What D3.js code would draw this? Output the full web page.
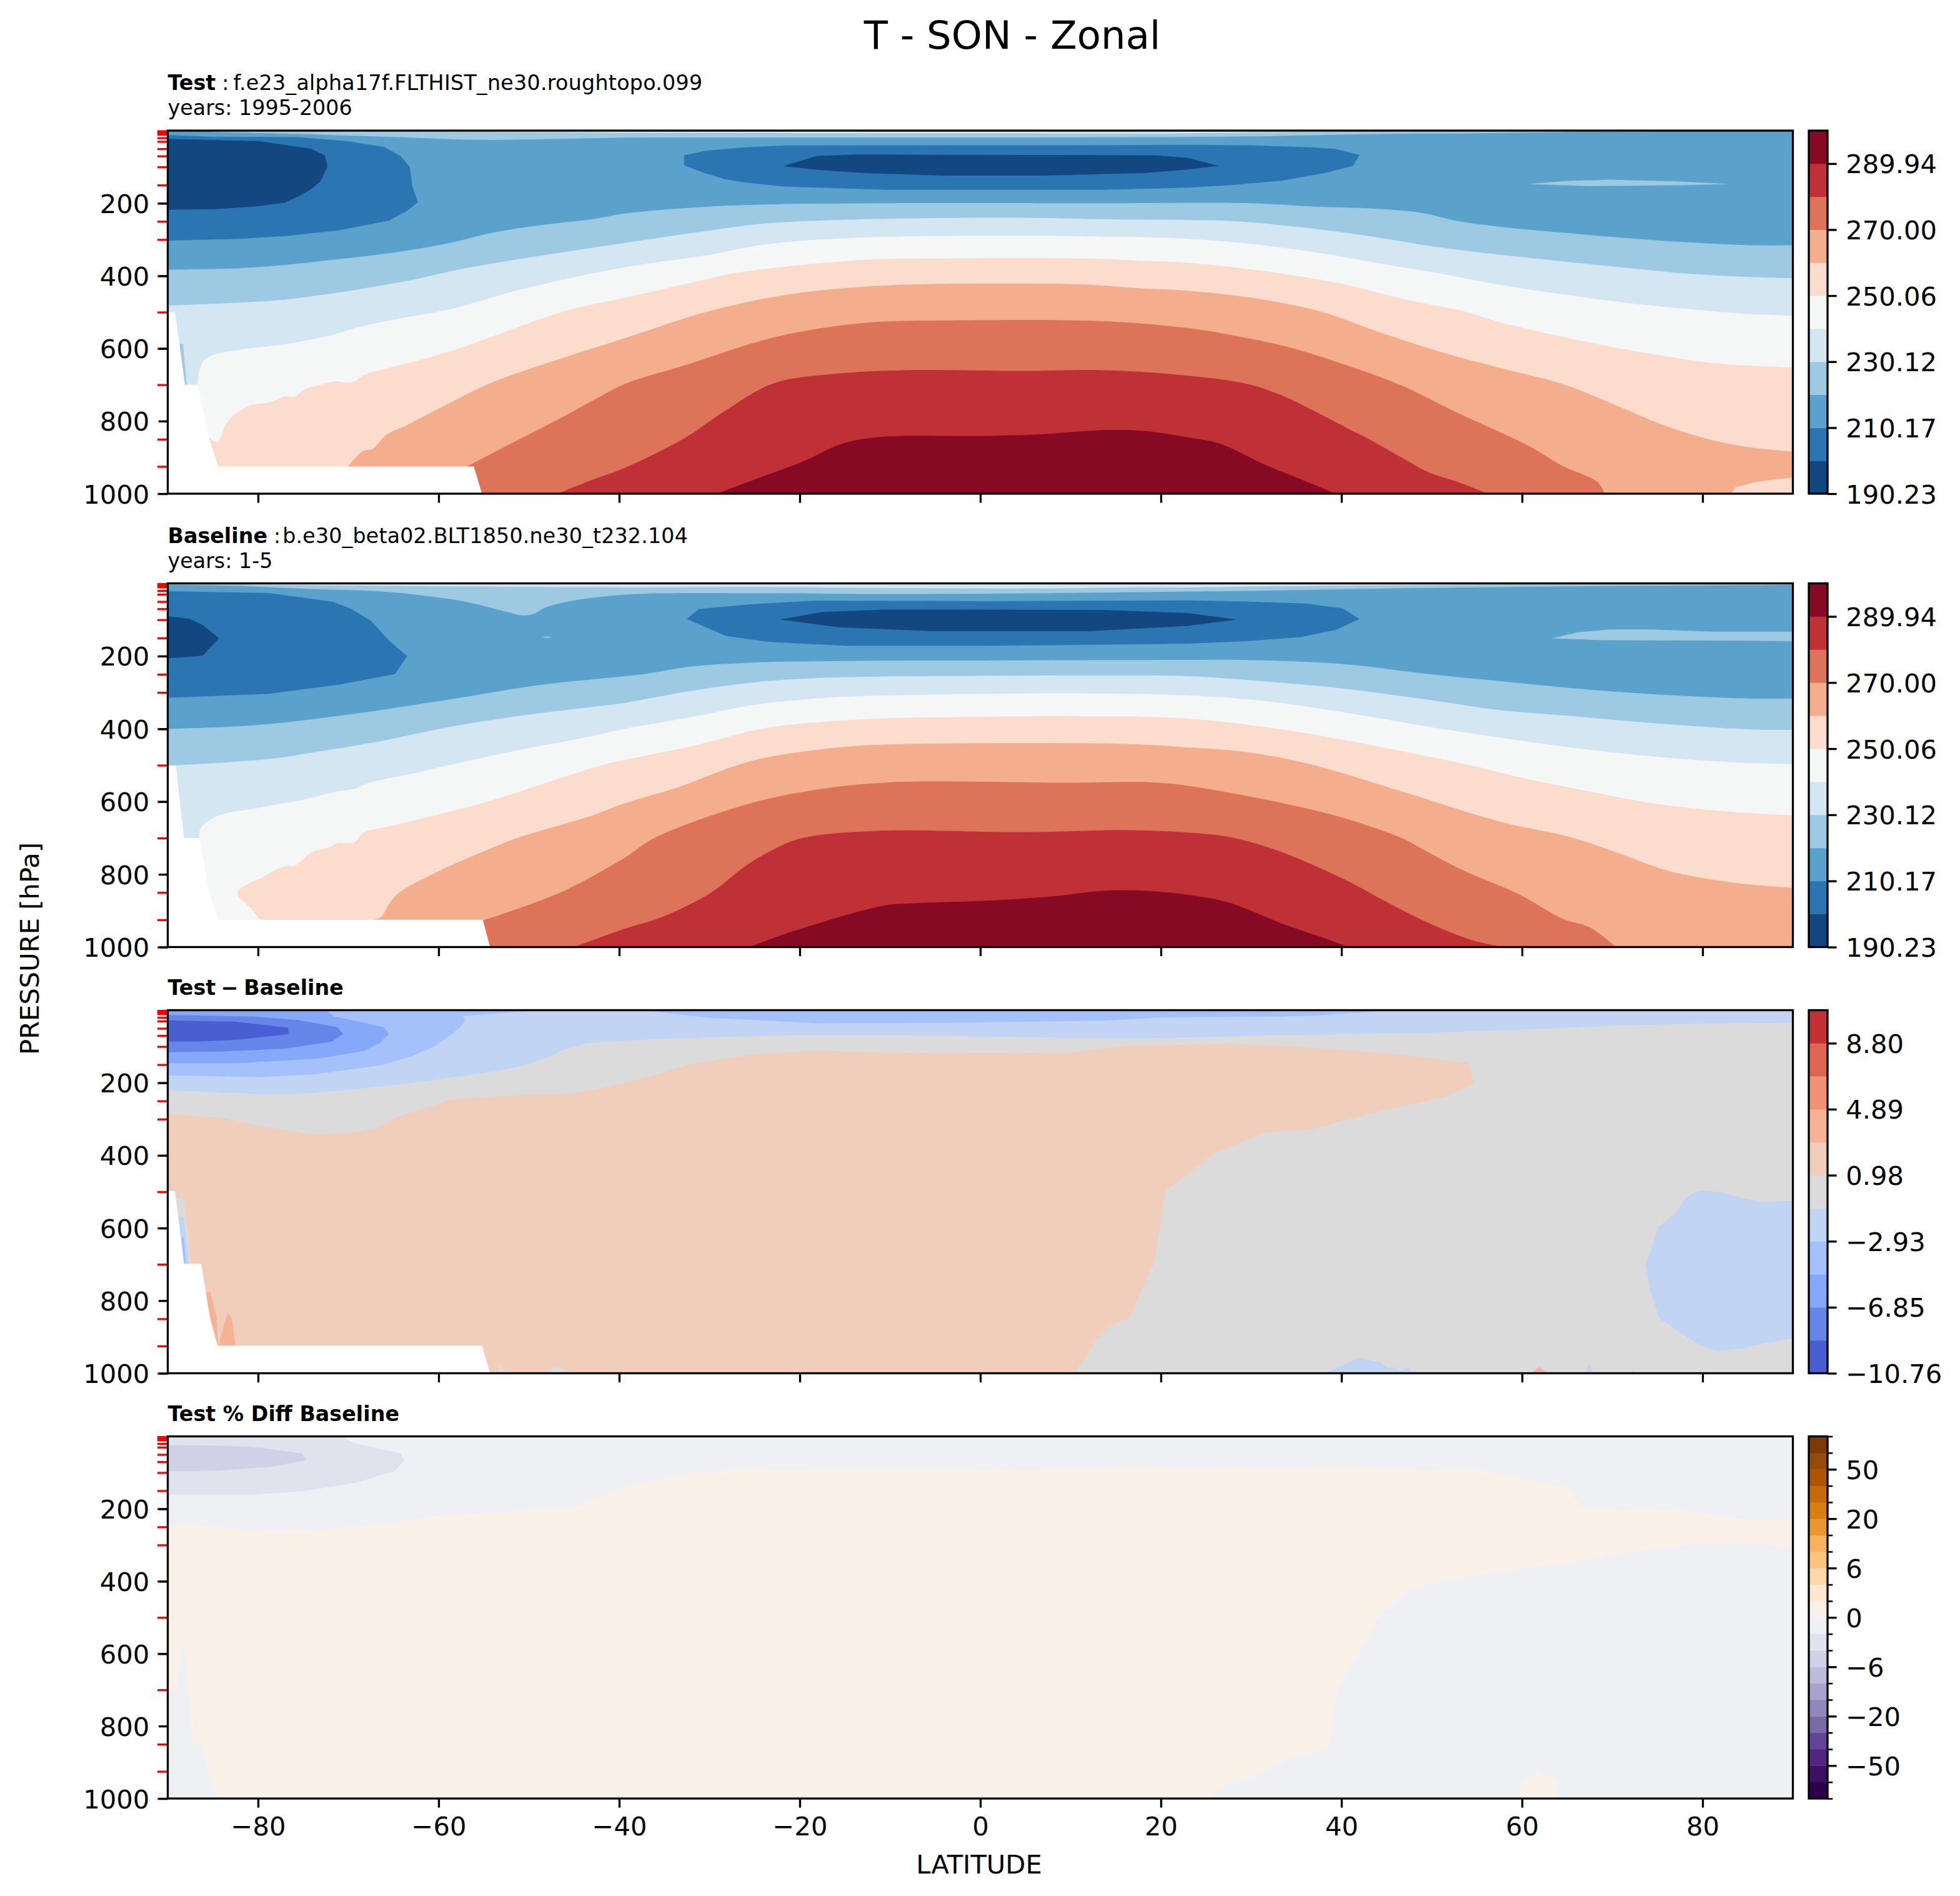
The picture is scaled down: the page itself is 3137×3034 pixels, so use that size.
<!DOCTYPE html>
<html lang="en">
<head>
    <meta charset="UTF-8">
    <title>T - SON - Zonal</title>
    <script src="https://d3js.org/d3.v7.min.js"></script>
</head>

<style>
    body { margin: 0; background: #fff; }
    text { font-family: "DejaVu Sans", sans-serif; fill: #000; }
</style>

<body>
<svg id="chart" width="3137" height="3034"></svg>

<script>
    // ---- axis values ----
    var latTicks = [-80, -60, -40, -20, 0, 20, 40, 60, 80];
    var presTicks = [200, 400, 600, 800, 1000];
    var modelLevels = [1, 2, 3, 5, 7, 10, 20, 30, 50, 70, 100, 150, 200, 250, 300, 400, 500, 600, 700, 850, 925, 1000];

    // ---- colorbar levels and colors ----
    var tempLevels = [190.23, 200.20, 210.17, 220.15, 230.12, 240.09, 250.06, 260.03, 270.00, 279.97, 289.94, 299.91];
    var tempLabels = [190.23, 210.17, 230.12, 250.06, 270.00, 289.94];
    var tempColors = ["#134780", "#2c75b3", "#5aa1cb", "#9dcae2", "#d4e6f2", "#f5f7f6", "#fcdccc", "#f5ae8d", "#dd7359", "#bf3037", "#860a24"];

    var diffLevels = [-10.76, -8.80, -6.85, -4.89, -2.93, -0.98, 0.98, 2.93, 4.89, 6.85, 8.80, 10.76];
    var diffLabels = [-10.76, -6.85, -2.93, 0.98, 4.89, 8.80];
    var diffColors = ["#485ed1", "#6585e9", "#86a8f8", "#a4c1fc", "#c2d4f3", "#dbdbdb", "#f1cdbb", "#f5b297", "#f29274", "#df6651", "#c33135"];

    var pctLevels = [-100, -75, -50, -40, -30, -20, -15, -10, -6, -4, -2, 0, 2, 4, 6, 10, 15, 20, 30, 40, 50, 75, 100];
    var pctLabels = [-50, -20, -6, 0, 6, 20, 50];
    var pctColors = ["#2d004b", "#3f0f62", "#532781", "#624596", "#7a6aa8", "#9088bb", "#a9a2cc", "#bdbada", "#d0d1e6", "#e2e2ee", "#eef0f4",
        "#f9f1e8", "#fde7cf", "#fdd9a8", "#fdc47e", "#f8b25c", "#e99831", "#d97e10", "#c66a0c", "#ad5505", "#974b08", "#7c3a08"];

    // ---- Test panel: contours as [latitude, pressure] ----
    var test_t200 = [[-90,23],[-79.9,29],[-74.15,50],[-72.6,68],[-72.3,99.5],[-73.1,140],[-74.15,162],[-75.5,181],[-77.1,199],[-80.3,209],[-84.7,216.6],[-90,218]];
    var test_t210 = [[-90,12],[-85.2,16.6],[-75.5,18],[-70.2,29],[-66,45],[-64.2,70.6],[-63.2,99.5],[-62.9,153.5],[-62.3,197],[-63.5,221],[-65.5,248],[-71.1,275],[-76.8,290],[-82.1,298],[-90,303]];
    var test_lens210 = [[-32.8,68],[-30.5,55.5],[-26.1,46],[-21.7,41],[13.7,40],[23,39],[29.9,40.5],[36.8,46],[39.3,50.4],[42,67],[41.3,96.6],[38.2,116.4],[33.4,137.5],[28.2,149.3],[23,157],[13.7,163],[-10.2,163],[-21.7,154],[-26.1,143],[-28.3,134],[-30.5,117],[-32.8,96]];
    var test_lens200 = [[-21.8,98],[-18.1,69.5],[-13.7,66],[19.4,68],[23,75.5],[26.4,96.6],[23,107],[18.1,117],[7,124],[-4,124],[-12.8,117],[-18.1,108]];
    var test_top220 = [[-85,4],[-73.3,11],[-64.4,18],[-55.6,25.6],[-46.8,23],[-39.3,19.5],[-25,19],[0,19],[23,17.5],[29.4,16],[43.8,9.5],[53.5,7.6],[63.8,4.3],[75,2.3]];
    var test_top230 = [[-60,2],[-39.3,6],[0,7.6],[23,7.6],[32.7,4.3],[41.3,2.3]];
    var test_t220 = [[-90,383],[-82.1,379],[-77.7,371.5],[-71.1,354],[-64.9,335.5],[-59.1,311],[-53.8,280],[-48.5,260],[-43.2,245],[-39.3,228],[-30.5,210],[-23,203],[-11,200],[13.7,200],[29.9,200],[36.8,209],[43.8,215],[49,227],[52.4,247],[57.6,265],[64.5,281],[71.5,296],[77.3,306],[84.4,315],[90,316]];
    var test_t230 = [[-90,482],[-83.9,476],[-77.7,467],[-73.3,453.5],[-68.8,437],[-63.1,412],[-57.4,381],[-51.6,356],[-45.9,334],[-39.3,309],[-30.5,277],[-23.9,256],[-12.8,244],[4.8,240],[13.7,244],[23,246],[28.2,249.5],[35.1,265],[42,286.5],[50.7,321],[57.6,342],[64.5,360],[71.5,378],[77.3,392],[84,402],[90,406.6]];
    var test_t240 = [[-86.7,700],[-86.3,645],[-85.4,622],[-82.1,604],[-77.7,590.5],[-75.5,582],[-71.9,563.5],[-68.8,541],[-64.4,518],[-58.7,492],[-51.6,442],[-45.4,406],[-39.3,376],[-30.5,344],[-23.9,313.5],[-12.8,294.5],[4.8,289.5],[13.7,292],[23,298],[29.9,312],[36.8,334],[43.8,364],[50.7,393],[57.6,425],[64.5,451],[71.5,474],[77.3,489],[84,503],[90,510]];
    var test_t250 = [[-85.4,845],[-84.5,858],[-83.4,802],[-82.1,773],[-80.8,757],[-78.6,748],[-77,732],[-76,733],[-74.8,712],[-73.3,701],[-71.3,690],[-70.3,694],[-69.3,690],[-68.2,672],[-64.4,647],[-60,617.5],[-55.6,581.5],[-51.2,541],[-45.9,496],[-39.3,460],[-30.5,410.5],[-27.4,393],[-21.7,375],[-12.8,356],[-5.8,352],[11.5,352],[18.1,359],[23,364],[29.9,382],[35.1,400],[40.3,423],[47.2,466],[53.5,497],[57.6,528],[64.5,568],[71.5,603],[76.2,622],[81,640],[85.7,648],[90,652]];
    var test_t260 = [[-70,924],[-68.4,883],[-67.3,876],[-65.8,838],[-63.5,811],[-60,766],[-54.3,696],[-46.8,631],[-39.3,571],[-30,497],[-21.7,453],[-12.8,430],[-6.2,423],[10.6,423],[18.1,435],[23,441],[29.9,460],[37.5,497],[43.8,551.5],[50.7,607.5],[57.6,654],[64.5,698],[69.7,749],[76.2,816],[81.5,855],[85.7,874],[90,884]];
    var test_t270 = [[-56.8,924],[-51.2,852],[-45.9,784],[-42.3,735],[-39.3,697],[-32.7,646],[-23.9,576],[-18.1,546],[-12,528],[-4,523],[13.7,525],[23,544],[28.2,565],[34.4,598],[40.3,644],[46.5,700],[52.4,772],[60.7,868],[64.5,924],[68.3,967],[69.2,1000]];
    var test_t280 = [[-46.8,1000],[-43.2,964],[-39.3,928],[-32.7,846],[-28.3,772.5],[-23,697],[-16.4,670.6],[-8.4,660],[4.8,662],[13.7,660],[22.5,674],[29.6,698],[33.4,729.5],[37.5,779],[41.3,828],[42.7,845],[46.5,898],[49.6,940.5],[52.8,967],[56.2,1000]];
    var test_t290 = [[-29.2,1000],[-24.8,959],[-19.5,910],[-15.5,864],[-11.1,844],[0.4,841],[7,836],[13.7,825],[18.1,827],[23,845],[26.4,861],[31.6,921],[36.8,973.5],[39.3,1000]];
    var test_sliver = [[60.7,147],[64.5,139.4],[69.7,135],[77.3,140],[83,147],[77.3,150.6],[67.3,152.6]];
    var test_edge220 = [[-88.7,586],[-88.3,588],[-87.9,700],[-88.1,700]];
    var test_cornerPeach = [[83.2,1000],[83.6,983],[85.7,968.6],[88.1,960],[90,956],[90,1000]];
    var test_mask = [[-90,500],[-89.2,500],[-88.1,700],[-86.7,700],[-85.4,850],[-84.4,925],[-56.1,925],[-55.2,1000],[-90,1000]];

    // ---- Baseline panel ----
    var base_t200 = [[-90,90],[-87.6,97.6],[-86.2,113.6],[-84.3,150.5],[-86.1,198.4],[-88,203],[-90,205.6]];
    var base_t210 = [[-90,21.5],[-78.8,26.6],[-71.7,50.5],[-69.7,70],[-67.5,102.7],[-65.5,157],[-63.5,200],[-64.8,249],[-70.9,278],[-78.8,303.5],[-90,315]];
    var base_lens210 = [[-32.5,98],[-31.2,70.6],[-25.4,57.4],[-18.3,47.5],[0.4,48.8],[23,46.9],[29.5,50],[36,55.4],[40.1,68.6],[42,98],[39.4,128],[35.5,147.7],[29.5,159],[23,166],[0.4,172],[-14.7,172],[-23.4,161],[-28.2,144.4]];
    var base_lens200 = [[-22.2,99.6],[-17.5,78.5],[-10.7,72],[13.5,73],[23,81.8],[28.4,99.6],[23,116.7],[12.3,131.2],[-5.6,131.2],[-15.5,121]];
    var base_top220 = [[-90,4],[-81.2,8],[-73.7,15.7],[-66.9,21.5],[-62.9,30],[-57,50.5],[-52.6,77.3],[-50.6,88.2],[-49.4,83],[-48.2,66.5],[-45.8,50.5],[-39.3,31],[-25.4,27],[-13.5,29],[-6.3,29],[7.6,27],[23,22.5],[30,20.5],[49,12.6],[66.3,8],[88,4.7],[90,4]];
    var base_top230 = [[-81,4],[-60,8],[-39.3,11],[-25.4,9.3],[-13.5,12.6],[7.6,13.9],[17,11],[23,11],[33,8],[49,4.7],[55.4,2.7]];
    var base_t220 = [[-90,400],[-80.8,391],[-70.9,364],[-59,320],[-49,280],[-39.3,255],[-37,248.6],[-32.2,229],[-25.4,218],[-12.7,213],[0.4,212],[23,210.4],[29,210.4],[40.3,222],[49.4,248.6],[59.8,274.3],[69.3,296],[79.2,311],[85.7,317],[90,317]];
    var base_t230 = [[-90,501.5],[-78.8,483],[-72.5,459],[-66.9,436],[-59,396],[-51,364],[-43.1,340],[-39.3,328],[-31.4,293],[-25.4,273],[-19.5,262],[-11.5,256.5],[0.4,254.5],[12.3,253],[23,255],[31.6,269.7],[40.3,289.5],[49,318],[57.6,349],[66.3,366.6],[74.9,385],[85.3,401.5],[90,403]];
    var base_t240 = [[-86.5,700],[-86.4,675.5],[-85.2,648],[-83.2,630.5],[-80.8,621],[-77.2,604.4],[-74.9,594.3],[-71.3,572.5],[-69.3,565],[-67.7,548.6],[-62.9,523],[-59,501],[-51,458],[-43,420],[-39.3,399.6],[-31.4,365],[-25.4,335.6],[-19.5,319],[-11.5,309],[0.4,304],[12.3,302.7],[23,308],[31.6,324],[40.3,355],[49,391.7],[57.6,424.6],[66.3,454],[74.9,477],[83.6,492.5],[90,497]];
    var base_t250 = [[-79.8,925],[-80.8,894],[-82.3,851],[-80.8,822],[-79.6,810],[-78.4,791.5],[-76.8,777],[-76,777],[-74,739],[-72,724.7],[-71.2,714],[-69.4,713],[-68.3,686],[-64.9,665],[-55,603],[-41.9,500],[-39.3,485],[-31.4,444.4],[-24.6,401.5],[-19.5,385],[-11.5,372],[0.4,367],[10.4,365],[23,372],[33.8,403],[42.5,441],[53.7,497],[59.8,533.4],[66.3,566.4],[74.9,606],[83.6,629],[90,637.6]];
    var base_t260 = [[-67.3,925],[-66.4,918],[-65.5,882],[-64.4,851],[-60.6,798.7],[-55,737],[-51.2,699.4],[-43.1,639],[-39.3,604],[-33.4,560],[-27,500.5],[-23.4,477.4],[-19.5,462],[-14.7,449],[-9.5,442.4],[15.5,441],[23,451],[29.5,464],[36.8,499],[46.8,573],[57.6,655.4],[65.4,698],[70.6,741],[76.2,790.5],[83.6,823.5],[90,837]];
    var base_t270 = [[-55.1,927],[-46.6,851],[-39.5,756],[-36.2,701.5],[-27.4,619],[-20.3,576],[-10.7,548],[10.4,548],[18.3,546.6],[23,556.5],[33.8,606],[40.3,645.5],[46.8,701.5],[49,731],[53.3,787],[59.8,856.5],[64.5,922.4],[67.6,947],[70.4,1000]];
    var base_t280 = [[-45,1000],[-39.3,949],[-35.4,919],[-29.8,850],[-26.2,780.6],[-23.4,738],[-19.9,701.5],[-11.5,680.5],[4.4,684],[16.3,678.5],[23,685],[27.7,698],[32.9,734.5],[40.3,813.6],[45,876],[49.8,935.6],[54.6,982],[58,1000]];
    var base_t290 = [[-25.6,1000],[-20.6,955.4],[-10.7,886],[-7.5,879.6],[0.4,873],[8.3,860],[13.5,845.3],[18.3,845.3],[23,856.5],[27.3,876],[33.8,939],[37.7,972],[40.8,1000]];
    var base_sliver = [[63.3,151],[66.2,134.5],[69.7,126.6],[74.5,126.6],[81,132.6],[90,132.6],[90,159],[85.3,157.6],[68.9,156.3]];
    var base_speck = [[-48.6,148],[-48,146],[-47.4,148],[-48,150]];
    var base_mask = [[-90,501],[-89.1,501],[-88.2,700],[-86.5,700],[-85.4,850],[-84.4,925],[-55.1,925],[-54.3,1000],[-90,1000]];

    // ---- Test - Baseline panel ----
    var diff_m1 = [[-90,221],[-84.1,226.6],[-78.8,231],[-73.5,226.6],[-66.5,210],[-59.4,188],[-50.6,152],[-44.6,97.5],[-39.3,84],[-21.7,70],[-4,71],[15.8,77],[31.3,70],[52.5,60],[71.4,42],[83.8,36],[90,34.5]];
    var diff_m3 = [[-90,0],[-50,0],[-50.2,3],[-57.3,16.3],[-57.1,28.6],[-57.6,46.8],[-58.7,68.5],[-60.3,97.5],[-62.9,126.5],[-66.5,152],[-73.5,176],[-79.9,184.5],[-85.9,181],[-90,179.4]];
    var diff_m3band = [[-36.5,0],[-36.5,3],[-30.2,20.6],[-18.1,36],[-4,34.7],[13.7,29],[19.3,20.6],[31.3,17.8],[37,15],[45.5,1],[46,0]];
    var diff_m5 = [[-90,0],[-72.5,0],[-72.1,7],[-71.6,17.8],[-70,25],[-66.1,46.8],[-65.5,65.6],[-66.5,90],[-68.2,112],[-73.5,134],[-82.4,146],[-90,146]];
    var diff_m7 = [[-90,12.7],[-80.6,17.8],[-75.7,26.5],[-71.2,46.8],[-70.6,65.6],[-71.8,86.6],[-77,106],[-84.1,114],[-90,115.6]];
    var diff_m9 = [[-90,28],[-82.4,32],[-76.7,48],[-76.6,66],[-82.4,81.6],[-86.3,86],[-90,86]];
    var diff_p1 = [[-90,286],[-84.1,295.4],[-79.2,322],[-73.9,342],[-70,338],[-66.8,326],[-65,297],[-61.2,268],[-58.9,247.6],[-52.4,235],[-45.3,230],[-40.7,208.4],[-39.3,200.6],[-32.3,151],[-25.2,120.5],[-18.1,112],[-4,119],[10.1,116.3],[16.5,98],[27.8,92.4],[35.6,102],[45.5,119],[54,144.4],[54.7,200.6],[51.8,236],[42,292],[37,327],[31.3,338.4],[25.7,397.5],[20.5,498.7],[19.3,693],[17.2,805.3],[16.5,847.5],[14.7,864.4],[12.8,910.8],[10.5,1000],[-90,1000]];
    var diff_east = [[90,524],[86.9,529],[84.5,518],[82.2,502],[79.8,497],[78.8,505],[77.9,525],[77.1,556],[75.1,599],[73.7,701],[74.2,772],[75.2,848],[77.7,891],[79.8,924],[81.7,938.5],[84.5,931],[86.9,917],[90,904]];
    var diff_edgeGrey = [[-89.2,518],[-88.2,518],[-87.4,699],[-88.2,699]];
    var diff_edgeM1 = [[-88.8,570],[-88.2,570],[-87.7,699],[-88.2,699]];
    var diff_edgeM3 = [[-88.5,627],[-88.2,627],[-88,699],[-88.2,699]];
    var diff_spikeA = [[-85.8,777.5],[-85.3,775],[-84.6,844],[-84.4,924],[-85.2,855]];
    var diff_spikeB = [[-84.4,924],[-83.4,833.4],[-82.9,848],[-82.5,924]];
    var diff_greyA = [[-53.4,1000],[-53.1,971],[-52.7,1000]];
    var diff_greyB = [[-47.8,1000],[-47.4,984],[-46.7,982],[-45.6,1000]];
    var diff_blueA = [[38,1000],[40.5,974],[42,956],[43,963],[44.4,970],[45.1,984],[46,985.5],[46.5,995],[47.4,983],[48,1000]];
    var diff_blueB = [[67,1000],[67.4,978],[68,1000]];
    var diff_blueC = [[72.1,1000],[72.2,988],[72.4,1000]];
    var diff_peach = [[61,1000],[61.9,983],[62.8,1000]];
    var diff_mask = [[-90,498],[-89.2,498],[-88.2,699],[-86.3,699],[-85.8,775],[-85.3,851],[-84.5,924],[-55.2,924],[-54.3,1000],[-90,1000]];

    // ---- Test % Diff Baseline panel ----
    var pct_m2 = [[-90,0],[-70.5,0],[-70.3,6],[-69.3,19],[-64.3,46],[-63.8,67.6],[-64.9,96],[-69.3,129],[-75.3,152],[-80.6,161],[-90,161]];
    var pct_m4 = [[-90,24],[-85.9,25],[-80.6,29],[-75.1,47],[-74.7,66],[-78.8,84.5],[-84.1,94.5],[-90,96]];
    var pct_p0 = [[-90,242],[-85.9,247],[-80.6,260],[-75.3,262],[-70,252],[-64.7,237],[-59.4,217.5],[-52.3,208],[-45.1,197],[-39.3,140.6],[-32.3,101.7],[-25.2,90.5],[-4,92],[27.8,83.4],[45.5,87.6],[56.1,94.7],[65.3,144],[66.7,197.3],[71.5,201],[75.8,201],[79.3,208.5],[83.3,227],[90,233],[90,308],[85.7,297],[81,295.5],[76.2,304],[71.5,320],[65.3,348],[59.6,365],[51.1,397],[47.6,425],[44,502],[42.6,573],[39.5,699],[38.7,847],[38,864],[34.5,885],[32,917],[30.3,938],[27.5,959.5],[25.3,1000],[-84.6,1000],[-86.3,850],[-87.2,850],[-88.2,556],[-89,700],[-90,700]];
    var pct_blob = [[59.8,1000],[59.8,952],[61.9,928.5],[63.7,948],[64,1000]];

    // ---- panels: each layer is [color, contour, how it closes] ----
    var panels = [
        {top: 209, bottom: 790, bg: tempColors[2], colors: tempColors, levels: tempLevels, labels: tempLabels, fmt: ".2f", minor: false,
         title: ["Test", "f.e23_alpha17f.FLTHIST_ne30.roughtopo.099"], nameDx: 7, nameSpacing: "0.25px", years: "years: 1995-2006",
         layers: [
            [tempColors[3], test_top220, "above"], [tempColors[4], test_top230, "above"],
            [tempColors[1], test_t210, "shape"], [tempColors[0], test_t200, "shape"],
            [tempColors[1], test_lens210, "shape"], [tempColors[0], test_lens200, "shape"],
            [tempColors[3], test_t220, "below"], [tempColors[4], test_t230, "below"], [tempColors[5], test_t240, "below"],
            [tempColors[6], test_t250, "below"], [tempColors[7], test_t260, "below"], [tempColors[8], test_t270, "below"],
            [tempColors[9], test_t280, "below"], [tempColors[10], test_t290, "below"],
            [tempColors[3], test_sliver, "shape"], [tempColors[3], test_edge220, "shape"], [tempColors[6], test_cornerPeach, "shape"],
            ["#fff", test_mask, "shape"]
         ]},
        {top: 933.5, bottom: 1515.5, bg: tempColors[2], colors: tempColors, levels: tempLevels, labels: tempLabels, fmt: ".2f", minor: false,
         title: ["Baseline", "b.e30_beta02.BLT1850.ne30_t232.104"], nameDx: 3, nameSpacing: "0.15px", years: "years: 1-5",
         layers: [
            [tempColors[3], base_top220, "above"], [tempColors[4], base_top230, "above"],
            [tempColors[1], base_t210, "shape"], [tempColors[0], base_t200, "shape"],
            [tempColors[1], base_lens210, "shape"], [tempColors[0], base_lens200, "shape"],
            [tempColors[3], base_t220, "below"], [tempColors[4], base_t230, "below"], [tempColors[5], base_t240, "below"],
            [tempColors[6], base_t250, "below"], [tempColors[7], base_t260, "below"], [tempColors[8], base_t270, "below"],
            [tempColors[9], base_t280, "below"], [tempColors[10], base_t290, "below"],
            [tempColors[3], base_sliver, "shape"], [tempColors[3], base_speck, "shape"],
            ["#fff", base_mask, "shape"]
         ]},
        {top: 1616.5, bottom: 2197.5, bg: diffColors[5], colors: diffColors, levels: diffLevels, labels: diffLabels, fmt: ".2f", minor: false,
         bold: "Test \u2212 Baseline", wordSpacing: "-3px",
         layers: [
            [diffColors[4], diff_m1, "above"], [diffColors[3], diff_m3, "shape"], [diffColors[3], diff_m3band, "shape"],
            [diffColors[2], diff_m5, "shape"], [diffColors[1], diff_m7, "shape"], [diffColors[0], diff_m9, "shape"],
            [diffColors[6], diff_p1, "shape"], [diffColors[4], diff_east, "shape"],
            [diffColors[5], diff_edgeGrey, "shape"], [diffColors[4], diff_edgeM1, "shape"], [diffColors[3], diff_edgeM3, "shape"],
            [diffColors[7], diff_spikeA, "shape"], [diffColors[7], diff_spikeB, "shape"],
            [diffColors[5], diff_greyA, "shape"], [diffColors[5], diff_greyB, "shape"],
            [diffColors[4], diff_blueA, "shape"], [diffColors[4], diff_blueB, "shape"], [diffColors[4], diff_blueC, "shape"],
            [diffColors[7], diff_peach, "shape"],
            ["#fff", diff_mask, "shape"]
         ]},
        {top: 2298.5, bottom: 2878, bg: pctColors[10], colors: pctColors, levels: pctLevels, labels: pctLabels, fmt: "d", minor: true,
         bold: "Test % Diff Baseline", wordSpacing: "0px",
         layers: [
            [pctColors[9], pct_m2, "shape"], [pctColors[8], pct_m4, "shape"],
            [pctColors[11], pct_p0, "shape"], [pctColors[11], pct_blob, "shape"]
         ]}
    ];

    var svg = d3.select("#chart");
    var left = 268.5, right = 2869.5, cbLeft = 2895, cbRight = 2925;
    var fontSize = 41.67, smallFont = 33.33, tickLen = 14.6, lineW = 3.3;

    var x = d3.scaleLinear().domain([-90, 90]).range([left, right]);

    svg.append("rect").attr("width", 3137).attr("height", 3034).attr("fill", "#fff");

    function styleAxis(g, color, width) {
        g.select(".domain").remove();
        g.selectAll("line").attr("stroke", color).attr("stroke-width", width);
        g.selectAll("text").style("font-size", fontSize + "px");
    }

    panels.forEach(function (p, i) {
        var y = d3.scaleLinear().domain([1000, 0]).range([p.bottom, p.top]);
        var line = d3.line().x(function (d) { return x(d[0]); }).y(function (d) { return y(d[1]); });
        // the long contours are smooth in the picture, the small shapes keep their corners
        var smooth = d3.line().x(line.x()).y(line.y()).curve(d3.curveCatmullRom.alpha(0.5));

        var clipId = "plot-" + i;
        svg.append("clipPath").attr("id", clipId).append("rect")
            .attr("x", left).attr("y", p.top).attr("width", right - left).attr("height", p.bottom - p.top);

        var plot = svg.append("g").attr("clip-path", "url(#" + clipId + ")");
        plot.append("rect").attr("x", left).attr("y", p.top).attr("width", right - left)
            .attr("height", p.bottom - p.top).attr("fill", p.bg);

        plot.selectAll("path").data(p.layers).enter().append("path")
            .attr("fill", function (d) { return d[0]; })
            .attr("d", function (d) {
                if (d[2] === "shape") return line(d[1]) + "Z";
                var first = d[1][0], last = d[1][d[1].length - 1];
                var edge = d[2] === "below" ? 1000 : 0;
                return smooth(d[1]) + "L" + x(last[0]) + "," + y(edge) + "L" + x(first[0]) + "," + y(edge) + "Z";
            });

        // red ticks on the model levels, under the black ones
        svg.append("g").attr("transform", "translate(" + left + ",0)")
            .call(d3.axisLeft(y).tickValues(modelLevels).tickSize(16.6).tickFormat(""))
            .call(styleAxis, "red", lineW);

        svg.append("g").attr("transform", "translate(" + left + ",0)")
            .call(d3.axisLeft(y).tickValues(presTicks).tickSize(tickLen).tickPadding(tickLen).tickFormat(d3.format("d")))
            .call(styleAxis, "#000", lineW)
            .selectAll("text").attr("dy", "0.36em");

        var xAxis = d3.axisBottom(x).tickValues(latTicks).tickSize(tickLen).tickPadding(tickLen);
        if (i < 3) xAxis.tickFormat("");
        else xAxis.tickFormat(d3.format("d"));
        svg.append("g").attr("transform", "translate(0," + p.bottom + ")").call(xAxis).call(styleAxis, "#000", lineW);

        svg.append("rect").attr("x", left).attr("y", p.top).attr("width", right - left).attr("height", p.bottom - p.top)
            .attr("fill", "none").attr("stroke", "#000").attr("stroke-width", lineW);

        // titles
        if (p.title) {
            var t = svg.append("text").attr("x", left).attr("y", p.top - 65).style("font-size", smallFont + "px");
            t.append("tspan").style("font-weight", "bold").text(p.title[0]);
            t.append("tspan").attr("dx", 10).text(":");
            t.append("tspan").attr("dx", p.nameDx).style("letter-spacing", p.nameSpacing).text(p.title[1]);
            svg.append("text").attr("x", left).attr("y", p.top - 25).style("font-size", smallFont + "px").text(p.years);
        } else {
            svg.append("text").attr("x", left).attr("y", p.top - 25).style("font-size", smallFont + "px")
                .style("font-weight", "bold").style("word-spacing", p.wordSpacing).text(p.bold);
        }

        // colorbar
        var cb = d3.scalePoint().domain(p.levels).range([p.bottom, p.top]);
        svg.append("g").selectAll("rect").data(p.colors).enter().append("rect")
            .attr("x", cbLeft).attr("width", cbRight - cbLeft)
            .attr("y", function (d, k) { return cb(p.levels[k + 1]); })
            .attr("height", function (d, k) { return cb(p.levels[k]) - cb(p.levels[k + 1]) + 0.5; })
            .attr("fill", function (d) { return d; });
        if (p.minor) {
            svg.append("g").attr("transform", "translate(" + cbRight + ",0)")
                .call(d3.axisRight(cb).tickValues(p.levels).tickSize(8.3).tickFormat(""))
                .call(styleAxis, "#000", 2.5);
        }
        svg.append("g").attr("transform", "translate(" + cbRight + ",0)")
            .call(d3.axisRight(cb).tickValues(p.labels).tickSize(tickLen).tickPadding(tickLen).tickFormat(d3.format(p.fmt)))
            .call(styleAxis, "#000", lineW)
            .selectAll("text").attr("dy", "0.36em");
        svg.append("rect").attr("x", cbLeft).attr("y", p.top).attr("width", cbRight - cbLeft).attr("height", p.bottom - p.top)
            .attr("fill", "none").attr("stroke", "#000").attr("stroke-width", lineW);
    });

    svg.append("text").attr("x", 1620).attr("y", 78).attr("text-anchor", "middle").style("font-size", "62.5px").text("T - SON - Zonal");
    svg.append("text").attr("x", 1567).attr("y", 2998).attr("text-anchor", "middle").style("font-size", fontSize + "px").text("LATITUDE");
    svg.append("text").attr("transform", "translate(62,1518) rotate(-90)").attr("text-anchor", "middle")
        .style("font-size", fontSize + "px").text("PRESSURE [hPa]");
</script>
</body>
</html>
